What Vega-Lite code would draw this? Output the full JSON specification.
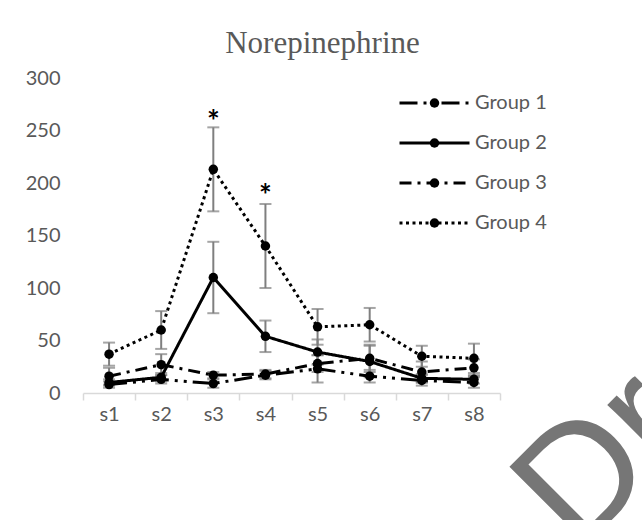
{
  "$schema": "https://vega.github.io/schema/vega-lite/v6.json",
  "width": 417,
  "height": 315,
  "autosize": {"type": "none"},
  "padding": {"left": 83, "top": 78, "right": 142, "bottom": 127},
  "background": "white",
  "title": {"text": "Norepinephrine", "font": "Liberation Serif", "fontSize": 31, "fontWeight": "normal", "color": "#595959", "baseline": "alphabetic", "offset": 25, "dx": 31, "dy": 41, "anchor": "middle", "frame": "group"},
  "config": {"view": {"stroke": null}, "font": "Lato"},
  "datasets": {
    "main": [
      {"sample": "s1", "group": "Group 1", "value": 8, "err": 3},
      {"sample": "s2", "group": "Group 1", "value": 13, "err": 4},
      {"sample": "s3", "group": "Group 1", "value": 9, "err": 4},
      {"sample": "s4", "group": "Group 1", "value": 17, "err": 4},
      {"sample": "s5", "group": "Group 1", "value": 23, "err": 13},
      {"sample": "s6", "group": "Group 1", "value": 16, "err": 6},
      {"sample": "s7", "group": "Group 1", "value": 12, "err": 5},
      {"sample": "s8", "group": "Group 1", "value": 10, "err": 5},
      {"sample": "s1", "group": "Group 2", "value": 10, "err": 3},
      {"sample": "s2", "group": "Group 2", "value": 15, "err": 4},
      {"sample": "s3", "group": "Group 2", "value": 110, "err": 34},
      {"sample": "s4", "group": "Group 2", "value": 54, "err": 15},
      {"sample": "s5", "group": "Group 2", "value": 39, "err": 12},
      {"sample": "s6", "group": "Group 2", "value": 30, "err": 15},
      {"sample": "s7", "group": "Group 2", "value": 14, "err": 4},
      {"sample": "s8", "group": "Group 2", "value": 13, "err": 4},
      {"sample": "s1", "group": "Group 3", "value": 16, "err": 8},
      {"sample": "s2", "group": "Group 3", "value": 27, "err": 10},
      {"sample": "s3", "group": "Group 3", "value": 17, "err": 3},
      {"sample": "s4", "group": "Group 3", "value": 18, "err": 4},
      {"sample": "s5", "group": "Group 3", "value": 28, "err": 8},
      {"sample": "s6", "group": "Group 3", "value": 33, "err": 13},
      {"sample": "s7", "group": "Group 3", "value": 20, "err": 10},
      {"sample": "s8", "group": "Group 3", "value": 24, "err": 8},
      {"sample": "s1", "group": "Group 4", "value": 37, "err": 11},
      {"sample": "s2", "group": "Group 4", "value": 60, "err": 18},
      {"sample": "s3", "group": "Group 4", "value": 213, "err": 40},
      {"sample": "s4", "group": "Group 4", "value": 140, "err": 40},
      {"sample": "s5", "group": "Group 4", "value": 63, "err": 17},
      {"sample": "s6", "group": "Group 4", "value": 65, "err": 16},
      {"sample": "s7", "group": "Group 4", "value": 35, "err": 10},
      {"sample": "s8", "group": "Group 4", "value": 33, "err": 14}
    ]
  },
  "encoding": {
    "x": {
      "field": "sample", "type": "nominal",
      "scale": {"domain": ["s1","s2","s3","s4","s5","s6","s7","s8"], "paddingInner": 0, "paddingOuter": 0},
      "axis": {"title": null, "labelAngle": 0, "labelFontSize": 20, "labelColor": "#595959", "domainColor": "#d9d9d9", "domainWidth": 1.5, "tickColor": "#d9d9d9", "tickWidth": 1.5, "tickSize": 7, "tickBand": "extent", "labelPadding": 4, "grid": false}
    },
    "y": {
      "field": "value", "type": "quantitative",
      "scale": {"domain": [0, 300], "nice": false, "zero": false},
      "axis": {"title": null, "values": [0, 50, 100, 150, 200, 250, 300], "domain": false, "ticks": false, "grid": false, "labelPadding": 23, "labelFontSize": 20, "labelColor": "#595959"}
    }
  },
  "layer": [
    {
      "data": {"name": "main"},
      "mark": {"type": "errorbar", "ticks": {"size": 12}, "thickness": 2, "color": "#7f7f7f"},
      "encoding": {"yError": {"field": "err"}}
    },
    {
      "data": {"name": "main"},
      "mark": {"type": "line", "color": "black", "strokeWidth": 3},
      "encoding": {
        "strokeDash": {
          "field": "group", "type": "nominal",
          "scale": {"range": [[18, 6, 3, 6, 3, 6], [1, 0], [12, 6, 3, 6], [3, 3.5]]},
          "legend": {"orient": "none", "legendX": 315, "legendY": 13, "title": null, "symbolType": "stroke", "symbolSize": 4900, "symbolStrokeWidth": 3, "symbolStrokeColor": "black", "labelFontSize": 20, "labelColor": "#595959", "clipHeight": 24, "rowPadding": 16, "labelOffset": 4}
        }
      }
    },
    {
      "data": {"name": "main"},
      "mark": {"type": "point", "filled": true, "color": "black", "size": 90, "opacity": 1},
      "encoding": {
        "shape": {
          "field": "group", "type": "nominal",
          "scale": {"domain": ["Group 1", "Group 2", "Group 3", "Group 4"], "range": ["circle", "circle", "circle", "circle"]},
          "legend": {"orient": "none", "legendX": 341.5, "legendY": 13, "title": null, "symbolSize": 90, "symbolFillColor": "black", "symbolStrokeColor": "black", "symbolStrokeWidth": 0, "symbolOpacity": 1, "labelFontSize": 20, "labelExpr": "''", "clipHeight": 24, "rowPadding": 16}
        }
      }
    },
    {
      "data": {"values": [{"sample": "s3", "value": 249, "mark": "*"}, {"sample": "s4", "value": 178, "mark": "*"}]},
      "mark": {"type": "text", "fontSize": 30, "fontWeight": "bold", "color": "black", "baseline": "alphabetic", "align": "center"},
      "encoding": {"text": {"field": "mark"}}
    },
    {
      "data": {"values": [{"sample": "s8", "value": -135, "label": "Draft"}]},
      "mark": {"type": "text", "angle": 315, "align": "left", "baseline": "alphabetic", "fontSize": 160, "font": "Liberation Sans", "color": "#767676", "dx": 60, "dy": 87},
      "encoding": {"text": {"field": "label"}}
    }
  ]
}
